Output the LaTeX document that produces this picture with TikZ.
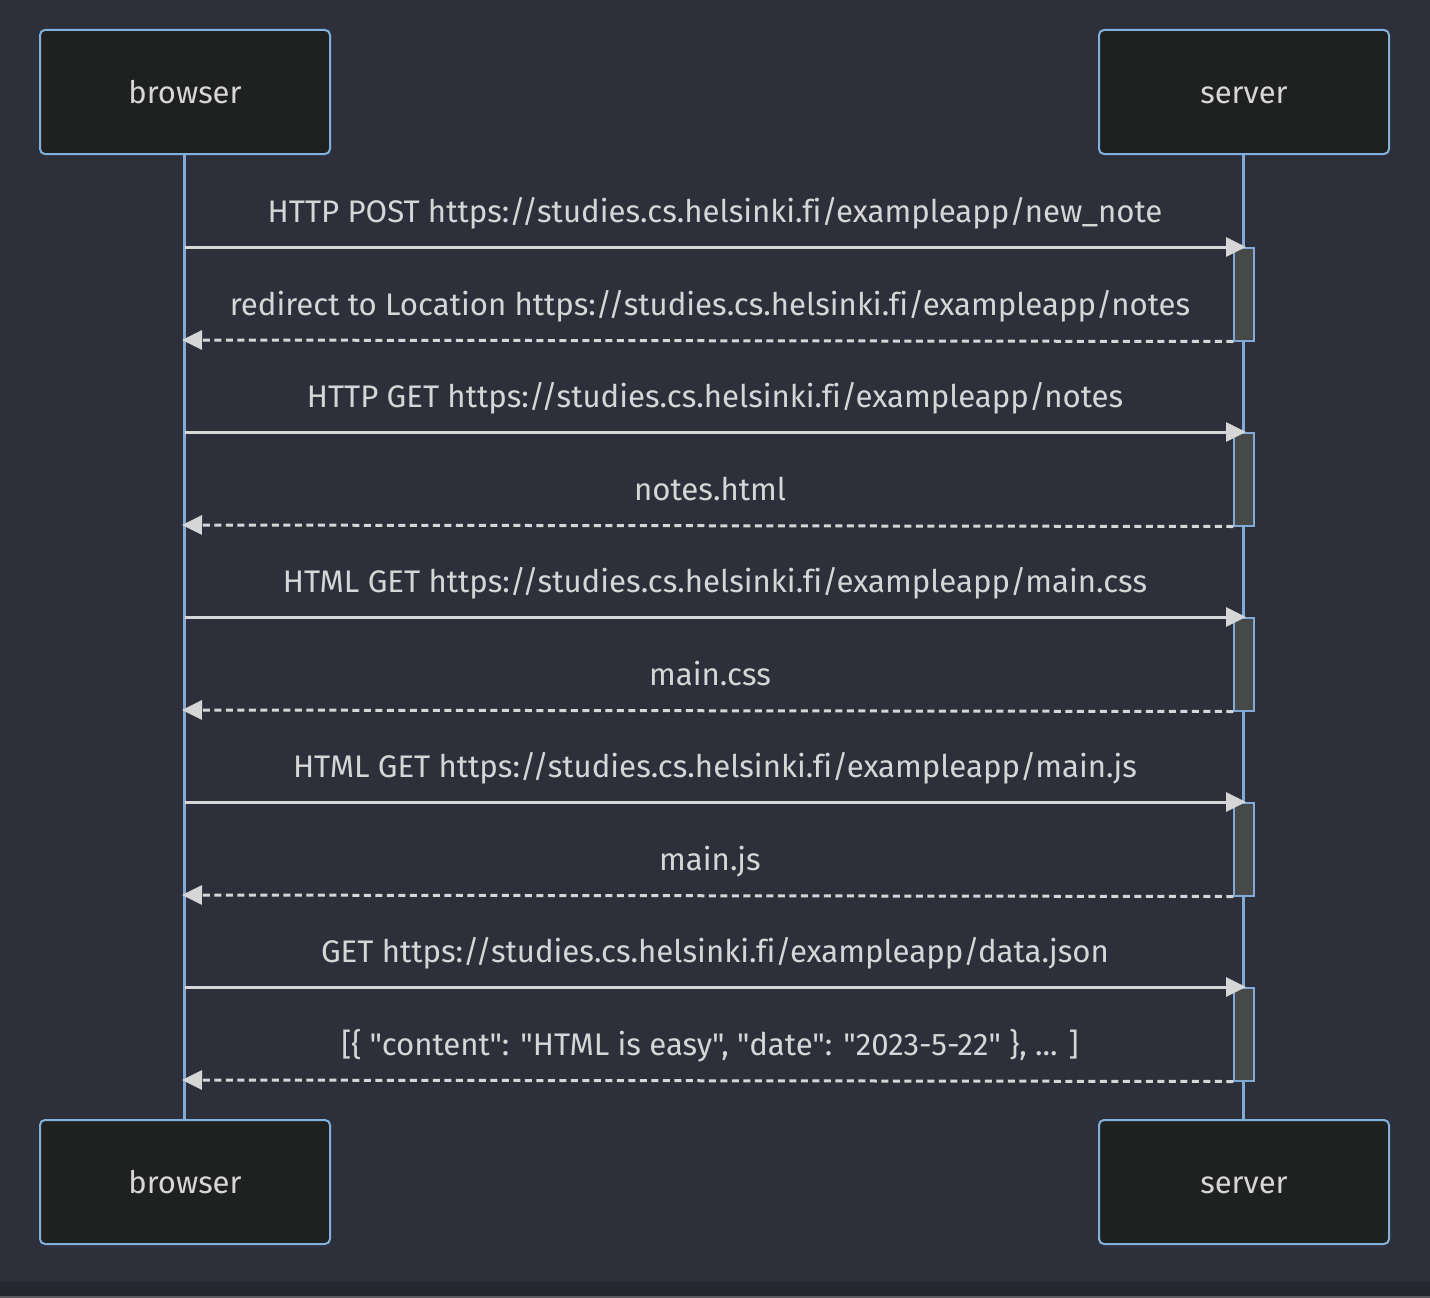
\documentclass[tikz,border=0pt]{standalone}
\usepackage{fontspec}
\newfontfamily\labelfont{Fira Sans}[Ligatures={NoCommon}]
\usetikzlibrary{arrows.meta}
\definecolor{bg}{RGB}{45,48,59}
\definecolor{band}{RGB}{37,39,47}
\definecolor{edge}{RGB}{90,90,92}
\definecolor{actorfill}{RGB}{31,32,32}
\definecolor{actorborder}{RGB}{129,177,219}
\definecolor{lifeblue}{RGB}{129,170,214}
\definecolor{actfill}{RGB}{71,73,73}
\definecolor{txt}{RGB}{214,214,214}
\definecolor{arrowc}{RGB}{214,214,214}
\begin{document}
\begin{tikzpicture}[x=1pt,y=-1pt,
  actor/.style={draw=actorborder, line width=2pt, fill=actorfill, rounded corners=5pt,
    minimum width=290pt, minimum height=124pt, inner sep=0pt, text=txt,
    text height=26pt, text depth=4pt,
    font=\labelfont\fontsize{31}{36}\selectfont},
  msg/.style={text=txt, font=\labelfont\fontsize{31.2}{36}\selectfont, anchor=base, inner sep=0pt},
  life/.style={draw=lifeblue, line width=3.5pt},
  actbox/.style={draw=lifeblue, line width=1.5pt, fill=actfill, minimum width=20pt,
    minimum height=93pt, inner sep=0pt, anchor=north},
  call/.style={draw=arrowc, line width=3pt, -{Triangle[length=20pt,width=19pt]}},
  reply/.style={call, dash pattern=on 7pt off 4.5pt}]
\useasboundingbox (0,0) rectangle (1430,1298);
\fill[bg] (0,0) rectangle (1430,1298);
\fill[band] (0,1282) rectangle (1430,1296);
\fill[edge] (0,1296) rectangle (1430,1298);

% lifelines
\coordinate (btop) at (184.5,154);
\coordinate (bbot) at (184.5,1120);
\coordinate (stop) at (1243.5,154);
\coordinate (sbot) at (1243.5,1120);
\draw[life] (btop) -- (bbot);
\draw[life] (stop) -- (sbot);

% actors
\node[actor] (browserTop) at (185,92) {browser};
\node[actor] (serverTop) at (1244,92) {server};
\node[actor] (browserBot) at (185,1182) {browser};
\node[actor] (serverBot) at (1244,1182) {server};

% activation boxes
\foreach \i/\y in {1/247,2/432,3/617,4/802,5/987}{
  \node[actbox] (act\i) at (1244,\y) {};
  \coordinate (bs\i) at (184.5,\y);
  \coordinate (ss\i) at (1246,\y);
  \coordinate (br\i) at (182,\y+93);
}

% messages
\draw[call] (bs1) -- (ss1);
\node[msg] (m1) at (715,222) {HTTP POST https://studies.cs.helsinki.fi/exampleapp/new\_note};
\draw[reply] (act1.south west) -- (br1);
\node[msg] (r1) at (710,315) {redirect to Location https://studies.cs.helsinki.fi/exampleapp/notes};

\draw[call] (bs2) -- (ss2);
\node[msg] (m2) at (715,407) {HTTP GET https://studies.cs.helsinki.fi/exampleapp/notes};
\draw[reply] (act2.south west) -- (br2);
\node[msg] (r2) at (710,500) {notes.html};

\draw[call] (bs3) -- (ss3);
\node[msg] (m3) at (715,592) {HTML GET https://studies.cs.helsinki.fi/exampleapp/main.css};
\draw[reply] (act3.south west) -- (br3);
\node[msg] (r3) at (710,685) {main.css};

\draw[call] (bs4) -- (ss4);
\node[msg] (m4) at (715,777) {HTML GET https://studies.cs.helsinki.fi/exampleapp/main.js};
\draw[reply] (act4.south west) -- (br4);
\node[msg] (r4) at (710,870) {main.js};

\draw[call] (bs5) -- (ss5);
\node[msg] (m5) at (715,962) {GET https://studies.cs.helsinki.fi/exampleapp/data.json};
\draw[reply] (act5.south west) -- (br5);
\node[msg] (r5) at (710,1055) {[\{ "content": "HTML is easy", "date": "2023-5-22" \}, ... ]};
\end{tikzpicture}
\end{document}
